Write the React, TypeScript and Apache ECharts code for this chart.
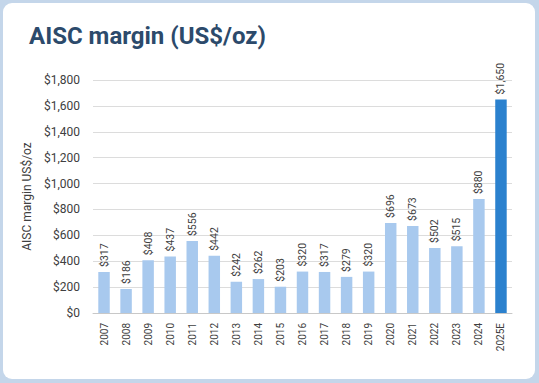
import React, { useEffect, useRef } from "react";
import * as echarts from "echarts";

const years = ["2007","2008","2009","2010","2011","2012","2013","2014","2015","2016","2017","2018","2019","2020","2021","2022","2023","2024","2025E"];
const margins = [317,186,408,437,556,442,242,262,203,320,317,279,320,696,673,502,515,880,1650];
const highlightIndex = 18;
const titleText = "AISC margin (US$/oz)";
const yAxisTitle = "AISC margin US$/oz";

export default function App() {
  const ref = useRef<HTMLDivElement>(null);
  useEffect(() => {
    if (!ref.current) return;
    const chart = echarts.init(ref.current, null, { renderer: "svg" });
    const fmt = (v: number) => "$" + v.toLocaleString("en-US");
    chart.setOption({
      animation: false,
      title: {
        text: titleText,
        left: 21,
        top: 16,
        textStyle: { fontFamily: "Roboto", fontSize: 24, fontWeight: "bold", color: "#2c4a6b" },
      },
      grid: { left: 90, right: 23, top: 77, bottom: 66 },
      xAxis: {
        type: "category",
        data: years,
        axisTick: { show: false },
        axisLine: { lineStyle: { color: "#c8c8c8" } },
        axisLabel: { rotate: 90, fontFamily: "Roboto", fontSize: 10, color: "#404040", margin: 10, interval: 0 },
      },
      yAxis: {
        type: "value",
        min: 0,
        max: 1800,
        interval: 200,
        name: yAxisTitle,
        nameLocation: "middle",
        nameGap: 51,
        nameTextStyle: { fontFamily: "Roboto", fontSize: 12, color: "#404040" },
        axisLabel: { formatter: (v: number) => fmt(v), fontFamily: "Roboto", fontSize: 12, color: "#404040", margin: 13 },
        splitLine: { lineStyle: { color: "#dcdcdc" } },
      },
      series: [
        {
          type: "bar",
          data: margins.map((v, i) => ({
            value: v,
            itemStyle: { color: i === highlightIndex ? "#2b81ce" : "#a8c9ee" },
          })),
          barWidth: "52%",
          label: {
            show: true,
            position: "top",
            rotate: 90,
            align: "left",
            verticalAlign: "middle",
            distance: 5,
            fontFamily: "Roboto",
            fontSize: 10.5,
            color: "#404040",
            formatter: (p: any) => fmt(p.value),
          },
        },
      ],
    });
    return () => chart.dispose();
  }, []);
  return (
    <div style={{ position: "fixed", left: 0, top: 0, width: 539, height: 383, background: "#c4d6ea" }}>
      <div style={{ position: "absolute", left: 3, top: 3, width: 532, height: 376, background: "#fff", borderRadius: 9, overflow: "hidden" }}>
        <div ref={ref} style={{ width: 532, height: 376 }} />
      </div>
    </div>
  );
}
